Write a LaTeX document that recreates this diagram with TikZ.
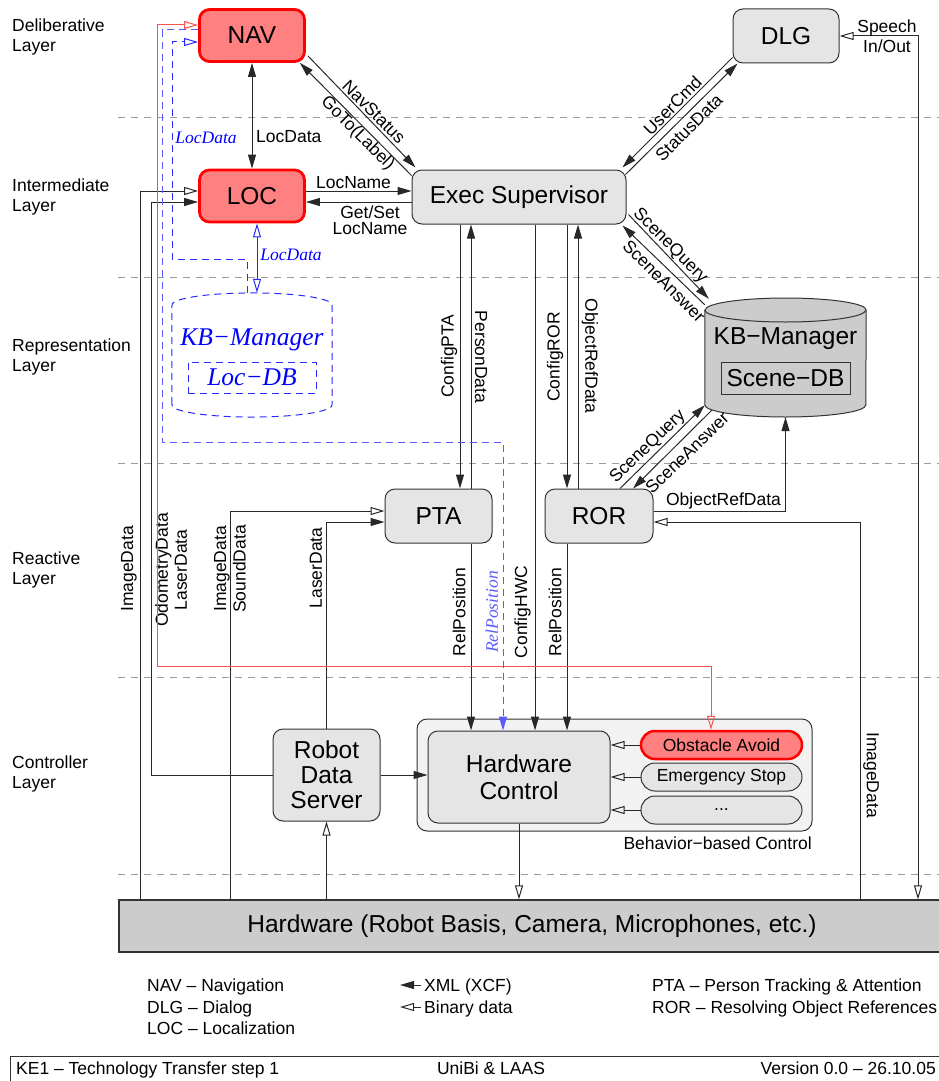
\documentclass[tikz,border=0pt]{standalone}
\usepackage{fontspec}
\setmainfont{Liberation Sans}
\newfontfamily\annot{Liberation Serif}
\usetikzlibrary{arrows.meta,calc}

\definecolor{hotred}{RGB}{255,128,128}
\definecolor{modfill}{RGB}{229,229,229}
\definecolor{dbfill}{RGB}{204,204,204}
\definecolor{panelfill}{RGB}{242,242,242}
\definecolor{wire}{RGB}{40,40,40}
\definecolor{sepgray}{RGB}{155,155,155}
\definecolor{lineblue}{RGB}{40,40,255}
\definecolor{paleblue}{RGB}{90,90,255}
\definecolor{linered}{RGB}{255,80,80}

\newcommand\bigtxt{\fontsize{24.5}{26}\selectfont}
\newcommand\smalltxt{\fontsize{17.5}{20.5}\selectfont}

\tikzset{
  fulltip/.tip={Triangle[length=14pt,width=8pt]},
  opentip/.tip={Triangle[open,length=14pt,width=8pt]},
  module/.style={draw=black!80, fill=modfill, rounded corners=10pt, line width=1pt,
    minimum width=107pt, minimum height=54pt, inner sep=0pt, font=\bigtxt, align=center},
  hot/.style={module, draw=red, fill=hotred, line width=2.8pt,
    minimum width=105pt, minimum height=52pt},
  behav/.style={module, rounded corners=14pt, minimum width=161pt, minimum height=28pt, font=\smalltxt},
  xml/.style={draw=wire, line width=1pt, -{fulltip}},
  bin/.style={draw=wire, line width=1pt, -{opentip}},
  lbl/.style={font=\smalltxt, inner sep=0pt},
  bluelbl/.style={font=\annot\itshape\fontsize{17.5}{20}\selectfont, text=blue, inner sep=0pt},
  layer/.style={font=\smalltxt, align=left, anchor=west, inner sep=0pt},
  sepline/.style={draw=sepgray, line width=0.9pt, dash pattern=on 7pt off 6pt},
  bluedash/.style={draw=lineblue, line width=1pt, dash pattern=on 7pt off 5pt},
}

\begin{document}
\begin{tikzpicture}[x=1pt,y=-1pt]
\useasboundingbox (0,0) rectangle (939,1081);

% layer separators
\foreach \yy in {117,277,463,677,874}
  \draw[sepline] (118,\yy) -- (939,\yy);

% layer names
\node[layer] (lyDel) at (12,37) {Deliberative\\Layer};
\node[layer] (lyInt) at (12,197) {Intermediate\\Layer};
\node[layer] (lyRep) at (12,357) {Representation\\Layer};
\node[layer] (lyRea) at (12,570) {Reactive\\Layer};
\node[layer] (lyCtl) at (12,774) {Controller\\Layer};

% modules
\node[hot] (nav) at (252,35.5) {NAV};
\node[hot] (loc) at (252,196) {LOC};
\node[module, minimum width=106pt] (dlg) at (786,36) {DLG};
\node[module, minimum width=214pt] (exec) at (519,197) {Exec Supervisor};
\node[module] (pta) at (438.5,516) {PTA};
\node[module, minimum width=108pt] (ror) at (599,516) {ROR};
\node[module, minimum height=92pt, font=\fontsize{24.5}{25}\selectfont] (rds) at (326.5,775) {Robot\\Data\\Server};

% behaviour-based control panel
\node[draw=black!80, fill=panelfill, rounded corners=10pt, line width=1pt,
      minimum width=395pt, minimum height=112pt, inner sep=0pt] (bbc) at (614.5,775) {};
\node[lbl, anchor=base east] (bbcname) at (812,849) {Behavior−based Control};
\node[module, minimum width=182pt, minimum height=92pt, font=\fontsize{24.5}{27}\selectfont] (hwc) at (519,777) {Hardware\\Control};
\node[behav, draw=red, fill=hotred, line width=2.5pt] (obs) at (721.5,745) {Obstacle Avoid};
\node[behav] (emg) at (721.5,777) {Emergency Stop};
\node[behav] (more) at (721.5,810) {...};

% hardware bar
\node[draw=black!80, fill=dbfill, line width=1.2pt, minimum width=826pt, minimum height=52pt,
      inner sep=0pt, font=\bigtxt] (hw) at (532,926) {Hardware (Robot Basis, Camera, Microphones, etc.)};

% KB manager cylinder
\node[minimum width=161pt, minimum height=119pt, inner sep=0pt] (kb) at (785.5,357.5) {};
\draw[draw=black!80, fill=dbfill, line width=1pt]
  (kb.west |- 0,310) -- (kb.west |- 0,405)
  arc[start angle=180, end angle=360, x radius=80.5pt, y radius=12pt]
  -- (kb.east |- 0,310)
  arc[start angle=0, end angle=180, x radius=80.5pt, y radius=12pt] -- cycle;
\draw[draw=black!80, line width=1pt] (kb.west |- 0,310)
  arc[start angle=180, end angle=360, x radius=80.5pt, y radius=12pt];
\node[font=\bigtxt, anchor=base, inner sep=0pt] (kbname) at (785.5,344) {KB−Manager};
\node[draw=black!80, fill=dbfill, line width=1pt, minimum width=129pt, minimum height=32pt,
      inner sep=0pt, font=\bigtxt] (scenedb) at (785.5,378) {Scene−DB};

% planned KB manager with localisation store
\node[minimum width=160pt, minimum height=124pt, inner sep=0pt] (kbl) at (252,355) {};
\draw[bluedash, rounded corners=3pt]
  (kbl.west |- 0,407) -- (kbl.west |- 0,303)
  .. controls (200,290) and (304,290) .. (kbl.east |- 0,303)
  -- (kbl.east |- 0,407)
  .. controls (304,420) and (200,420) .. (kbl.west |- 0,407) -- cycle;
\node[bluelbl, font=\annot\itshape\fontsize{25.5}{27}\selectfont, anchor=base] (kblname) at (252,345) {KB−Manager};
\node[bluedash, minimum width=128pt, minimum height=31pt, inner sep=0pt, text=blue,
      font=\annot\itshape\fontsize{25.5}{27}\selectfont] (locdb) at (252,377.5) {Loc−DB};

% NAV <-> LOC <-> Exec
\draw[xml, {fulltip}-{fulltip}] (nav.south) -- (loc.north);
\node[lbl, anchor=west] (lLocData) at (256,137) {LocData};
\draw[xml] ($(nav.south east)+(2,-7)$) -- ($(exec.north west)+(4,-2)$);
\draw[xml] ($(exec.north west)+(0,6)$) -- ($(nav.south east)+(-6,0)$);
\node[lbl, rotate=-45] (lNav) at (374,112) {NavStatus};
\node[lbl, rotate=-45] (lGoto) at (357.5,133.5) {GoTo(Label)};
\draw[xml] (loc.east |- 0,191) -- (exec.west |- 0,191);
\draw[xml] (exec.west |- 0,202) -- (loc.east |- 0,202);
\node[lbl, anchor=base] (lLocName) at (353.5,188) {LocName};
\node[lbl, align=center, font=\fontsize{17.5}{15.5}\selectfont] (lGetSet) at (370,220) {Get/Set\\LocName};

% DLG <-> Exec
\draw[xml] ($(dlg.south west)+(0,-6)$) -- ($(exec.north east)+(-4,-2)$);
\draw[xml] ($(exec.north east)+(-1,5)$) -- ($(dlg.south west)+(5,0)$);
\node[lbl, rotate=45] (lUser) at (672.5,105.5) {UserCmd};
\node[lbl, rotate=45] (lStat) at (689,127.5) {StatusData};
\draw[bin, {opentip}-{opentip}] (dlg.east) -| (hw.north -| 918,0);
\node[lbl, align=center] (lSpeech) at (887,36) {Speech\\In/Out};

% Exec <-> KB
\draw[xml] ($(exec.south east)+(2,-10)$) -- ($(kb.north west)+(4,1)$);
\draw[xml] ($(kb.north west)+(0,7)$) -- ($(exec.south east)+(-4,1)$);
\node[lbl, rotate=-45] (lSq1) at (670,246) {SceneQuery};
\node[lbl, rotate=-45] (lSa1) at (664,281) {SceneAnswer};

% KB <-> ROR
\draw[xml] ($(ror.north)+(21,0)$) -- ($(kb.south west)+(0,-12)$);
\draw[xml] ($(kb.south west)+(7,-7)$) -- ($(ror.north)+(34,0)$);
\node[lbl, rotate=44] (lSq2) at (648,447) {SceneQuery};
\node[lbl, rotate=44] (lSa2) at (687,453) {SceneAnswer};
\draw[xml] (ror.east |- 0,511) -| (kb.south);
\node[lbl, anchor=base] (lObjRef2) at (723.5,505) {ObjectRefData};

% Exec <-> reactive modules and hardware control
\draw[xml] (exec.south -| 460,0) -- (pta.north -| 460,0);
\draw[xml] (pta.north -| 471,0) -- (exec.south -| 471,0);
\draw[xml] (exec.south -| 567,0) -- (ror.north -| 567,0);
\draw[xml] (ror.north -| 578,0) -- (exec.south -| 578,0);
\draw[xml] (exec.south -| 535,0) -- (hwc.north -| 535,0);
\draw[xml] (pta.south -| 471,0) -- (hwc.north -| 471,0);
\draw[xml] (ror.south -| 567,0) -- (hwc.north -| 567,0);
\node[lbl, rotate=90] (lCfgPta) at (449,356) {ConfigPTA};
\node[lbl, rotate=-90] (lPerson) at (481,357) {PersonData};
\node[lbl, rotate=90] (lCfgRor) at (555,357) {ConfigROR};
\node[lbl, rotate=-90] (lObjRef1) at (590,356) {ObjectRefData};
\node[lbl, rotate=90] (lRel1) at (459,612) {RelPosition};
\node[bluelbl, text=paleblue, rotate=90] (lRelB) at (492,612) {RelPosition};
\node[lbl, rotate=90] (lCfgHwc) at (522.5,612) {ConfigHWC};
\node[lbl, rotate=90] (lRel2) at (555,612) {RelPosition};

% sensor data paths
\draw[bin] (hw.north -| 140,0) |- (loc.west |- 0,191);
\draw[xml] (rds.west) -| (151,202) -- (loc.west |- 0,202);
\draw[bin] (hw.north -| 230,0) |- (pta.west |- 0,511);
\draw[xml] (rds.north) |- (pta.west |- 0,522);
\draw[bin] (hw.north -| rds.south) -- (rds.south);
\draw[xml] (rds.east) -- (hwc.west |- rds.east);
\draw[bin] (hwc.south) -- (hw.north -| hwc.south);
\draw[bin] (hw.north -| 860,0) |- (ror.east |- 0,522);
\node[lbl, rotate=90] (lImg1) at (129,569) {ImageData};
\node[lbl, rotate=90, align=center, font=\fontsize{17.5}{19}\selectfont] (lOdo) at (171,570) {OdometryData\\LaserData};
\node[lbl, rotate=90, align=center, font=\fontsize{17.5}{19.5}\selectfont] (lImgSnd) at (230,569) {ImageData\\SoundData};
\node[lbl, rotate=90] (lLaser) at (316,568) {LaserData};
\node[lbl, rotate=-90] (lImg2) at (871,775) {ImageData};

% behaviours into hardware control
\draw[bin] (obs.west) -- (hwc.east |- obs.west);
\draw[bin] (emg.west) -- (hwc.east |- emg.west);
\draw[bin] (more.west) -- (hwc.east |- more.west);

% planned links
\draw[draw=linered, line width=1pt, {opentip}-{opentip}]
  (nav.west |- 0,25) -| (157,666) -| (obs.north -| 711,0);
\draw[bluedash, -{opentip}] (kbl.north -| 247,0) |- (172,259) |- (nav.west |- 0,42);
\draw[bluedash, draw=paleblue, -{fulltip}] (nav.west |- 0,30) -| (162,442) -| (hwc.north -| 503,0);
\node[bluelbl] (lLocB1) at (206,138) {LocData};
\draw[draw=lineblue, line width=1pt, {opentip}-{opentip}] (loc.south -| 257,0) -- (kbl.north -| 257,0);
\node[bluelbl] (lLocB2) at (291,255) {LocData};

% legend
\node[lbl, anchor=base west] (kNav) at (147,991) {NAV – Navigation};
\node[lbl, anchor=base west] (kDlg) at (147,1013) {DLG – Dialog};
\node[lbl, anchor=base west] (kLoc) at (147,1034) {LOC – Localization};
\node[lbl, anchor=base west] (kXml) at (424,991) {XML (XCF)};
\node[lbl, anchor=base west] (kBin) at (424,1013) {Binary data};
\coordinate (xmlTip) at (400,985);
\coordinate (binTip) at (400,1007);
\draw[xml, shorten <=3pt] (kXml.west |- xmlTip) -- (xmlTip);
\draw[bin, shorten <=3pt] (kBin.west |- binTip) -- (binTip);
\node[lbl, anchor=base west] (kPta) at (652,991) {PTA – Person Tracking \& Attention};
\node[lbl, anchor=base west] (kRor) at (652,1013) {ROR – Resolving Object References};

% footer
\node[draw=black!80, line width=1pt, minimum width=940pt, minimum height=40pt,
      anchor=north west, inner sep=0pt] (footer) at (10,1056) {};
\node[lbl, anchor=base west] (fLeft) at (16,1074) {KE1 – Technology Transfer step 1};
\node[lbl, anchor=base] (fMid) at (491,1074) {UniBi \& LAAS};
\node[lbl, anchor=base east] (fRight) at (936,1074) {Version 0.0 – 26.10.05};
\end{tikzpicture}
\end{document}
